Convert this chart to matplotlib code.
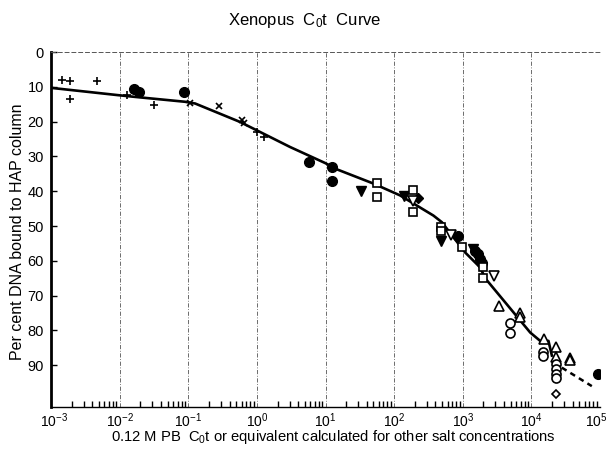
import matplotlib
matplotlib.use("Agg")
import matplotlib.pyplot as plt
import matplotlib.transforms as mtransforms
from matplotlib.ticker import LogLocator, NullFormatter

plt.rcParams['font.family'] = ['Liberation Sans', 'DejaVu Sans']
plt.rcParams['mathtext.fontset'] = 'custom'
plt.rcParams['mathtext.rm'] = 'Liberation Sans'
plt.rcParams['mathtext.it'] = 'Liberation Sans'
plt.rcParams['mathtext.bf'] = 'Liberation Sans'

# ---- data ----
plus_x = [1.43e-3, 1.89e-3, 1.89e-3, 4.64e-3, 0.0129, 0.032, 1.0, 1.27]
plus_y = [8.1, 8.4, 13.5, 8.3, 12.4, 15.1, 23.0, 24.4]

cross_x = [0.106, 0.284, 0.60, 0.65]
cross_y = [14.6, 15.5, 19.4, 20.5]

fcirc_x = [0.0162, 0.0192, 0.087, 5.82, 12.3, 12.3, 857, 1517, 1650, 1800, 1900, 95000]
fcirc_y = [10.7, 11.4, 11.6, 31.6, 33.0, 37.0, 53.0, 57.1, 58.0, 59.5, 60.5, 92.4]

ftri_x = [33, 140, 480, 1400]
ftri_y = [40.0, 41.5, 54.2, 56.5]

fdiam_x = [224]
fdiam_y = [41.9]

osq_x = [57.2, 57.2, 191, 191, 480, 480, 968, 1950, 1950]
osq_y = [37.6, 41.6, 39.6, 45.9, 50.3, 51.5, 55.9, 61.9, 65.0]

otrid_x = [187, 672, 2900]
otrid_y = [42.7, 52.7, 64.4]

otriu_x = [3430, 6870, 6870, 15200, 23000, 23000, 36800, 36800]
otriu_y = [73.0, 74.9, 76.0, 82.5, 84.9, 87.6, 87.8, 88.4]

ocirc_x = [4800, 4800, 15000, 15000, 23000, 23000, 23000, 23000]
ocirc_y = [77.9, 80.6, 86.2, 87.3, 89.7, 91.2, 92.6, 93.6]

odiam_x = [23000]
odiam_y = [98.4]

curve_x = [1e-3, 0.0095, 0.0168, 0.0897, 0.126, 0.569, 3.05, 9.87, 14.6, 49.9,
           122, 374, 496, 1084, 1794, 2122, 9617, 13430, 17740, 20100]
curve_y = [10.3, 12.4, 12.9, 14.3, 14.8, 20.1, 27.3, 31.9, 33.7, 37.8,
           41.2, 47.0, 48.9, 57.6, 61.9, 65.0, 80.6, 83.0, 83.0, 87.6]

dash_x = [27800, 76000]
dash_y = [90.7, 96.0]

yticks = [0, 10, 20, 30, 40, 50, 60, 70, 80, 90]
xticks = [1e-3, 1e-2, 1e-1, 1e0, 1e1, 1e2, 1e3, 1e4, 1e5]
xticklabels = [r'$10^{-3}$', r'$10^{-2}$', r'$10^{-1}$', r'$10^{0}$', r'$10^{1}$',
               r'$10^{2}$', r'$10^{3}$', r'$10^{4}$', r'$10^{5}$']

# ---- figure ----
fig = plt.figure(figsize=(6.09, 4.5), dpi=100)
ax = fig.add_axes([51/609, 1-407/450, (600-51)/609, (407-52)/450])

ax.set_xscale('log')
ax.set_xlim(1e-3, 1e5)
ax.set_ylim(102, 0)

for v in xticks[1:]:
    ax.axvline(v, color='#555555', lw=0.6, ls=(0, (5, 2, 1, 2)), zorder=1)

ax.plot(curve_x, curve_y, color='black', lw=1.9, zorder=2, solid_capstyle='butt')
ax.plot(dash_x, dash_y, color='black', lw=1.8, ls=(0, (2.2, 1.8)), zorder=2)

ms = 7
ax.plot(plus_x, plus_y, ls='none', marker='+', ms=6, mew=1.2, color='black', zorder=3)
ax.plot(cross_x, cross_y, ls='none', marker='x', ms=5, mew=1.2, color='black', zorder=3)
ax.plot(fcirc_x, fcirc_y, ls='none', marker='o', ms=ms, color='black', zorder=3)
ax.plot(ftri_x, ftri_y, ls='none', marker='v', ms=ms, color='black', zorder=3)
ax.plot(fdiam_x, fdiam_y, ls='none', marker='D', ms=5.5, color='black', zorder=3)
ax.plot(osq_x, osq_y, ls='none', marker='s', ms=6, mfc='white', mec='black', mew=1.2, zorder=4)
ax.plot(otrid_x, otrid_y, ls='none', marker='v', ms=6.5, mfc='white', mec='black', mew=1.2, zorder=4)
ax.plot(otriu_x, otriu_y, ls='none', marker='^', ms=6.5, mfc='white', mec='black', mew=1.2, zorder=4)
ax.plot(ocirc_x, ocirc_y, ls='none', marker='o', ms=6.5, mfc='white', mec='black', mew=1.2, zorder=4)
ax.plot(odiam_x, odiam_y, ls='none', marker='D', ms=4.5, mfc='white', mec='black', mew=1.2, zorder=4)

# spines
ax.spines['left'].set_linewidth(2.0)
ax.spines['bottom'].set_linewidth(1.0)
ax.spines['top'].set_linewidth(0.7)
ax.spines['top'].set_linestyle((0, (4, 3)))
ax.spines['top'].set_color('#555555')
ax.spines['right'].set_visible(False)

ax.set_yticks(yticks)
ax.tick_params(axis='y', direction='in', length=4, width=1, labelsize=10.5, pad=5)
ax.set_xticks(xticks)
ax.set_xticklabels(xticklabels)
ax.xaxis.set_minor_locator(LogLocator(base=10, subs=range(2, 10), numticks=100))
ax.xaxis.set_minor_formatter(NullFormatter())
ax.tick_params(axis='x', which='major', direction='in', length=0, labelsize=10, pad=3)
ax.tick_params(axis='x', which='minor', direction='in', length=4, width=1)

labels = ax.get_xticklabels()
labels[0].set_transform(labels[0].get_transform() +
                        mtransforms.ScaledTranslation(3/100, 0, fig.dpi_scale_trans))
labels[-1].set_transform(labels[-1].get_transform() +
                         mtransforms.ScaledTranslation(-4/100, 0, fig.dpi_scale_trans))

fig.text(333/609, 1-437/450,
         r'0.12 M PB  C$_0$t or equivalent calculated for other salt concentrations',
         ha='center', va='center', fontsize=10.6)
fig.text(18/609, 1-232/450, 'Per cent DNA bound to HAP column',
         ha='center', va='center', rotation=90, fontsize=11.5)
fig.text(305/609, 1-20/450, r'Xenopus  C$_0$t  Curve', ha='center', va='center', fontsize=12)

fig.savefig('out.png', dpi=100)
